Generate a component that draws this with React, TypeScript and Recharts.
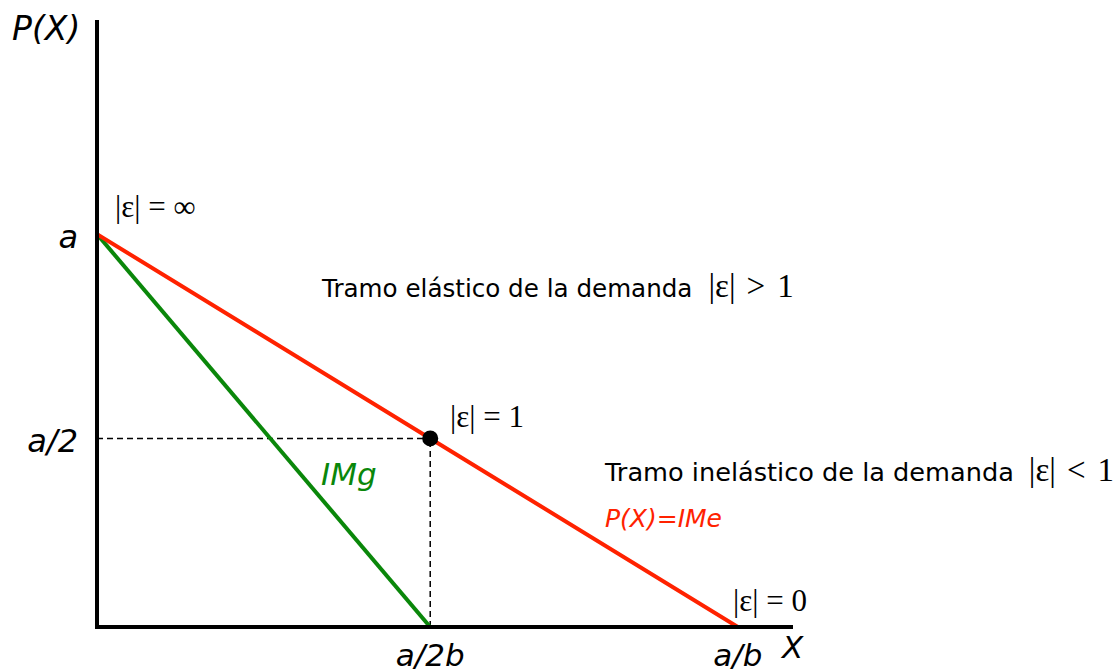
import {
  ComposedChart, Line, XAxis, YAxis, ReferenceLine, ReferenceDot, Customized
} from "recharts";

// quantity axis normalised so that a/b = 1, price axis so that a = 1
const qValues = [0, 0.52, 1];
const demandValues = [1, 0.48, 0];         // P(X) = IMe
const marginalValues = [1, 0, null];       // IMg, hits zero at a/2b

const xTickValues = [0.52, 1];
const xTickLabels = ["a/2b", "a/b"];
const yTickValues = [0.48, 1];
const yTickLabels = ["a/2", "a"];

const unitQ = qValues[1];
const unitP = demandValues[1];

const data = qValues.map((q, i) => ({
  q,
  ime: demandValues[i],
  img: marginalValues[i],
}));

const SANS = "Verdana, 'DejaVu Sans', sans-serif";
const SERIF = "'Liberation Serif', 'Times New Roman', serif";
const RED = "#ff2200";
const GREEN = "#0a870a";

const XTick = ({ x, y, payload }: any) => {
  const i = xTickValues.indexOf(payload.value);
  return (
    <text x={x} y={y + 31} textAnchor="middle" fontFamily={SANS} fontStyle="italic" fontSize={31} fill="#000">
      {xTickLabels[i]}
    </text>
  );
};

const YTick = ({ x, y, payload }: any) => {
  const i = yTickValues.indexOf(payload.value);
  return (
    <text x={x - 11} y={y + 14} textAnchor="end" fontFamily={SANS} fontStyle="italic" fontSize={32} fill="#000">
      {yTickLabels[i]}
    </text>
  );
};

// "|ε| > 1" style label with wider relation spacing
const Relation = ({ op, lead }: { op: string; lead: number }) => (
  <>
    <tspan fontFamily={SERIF} fontSize={33} dx={lead}>|ε|</tspan>
    <tspan fontFamily={SERIF} fontSize={33} dx={11}>{op}</tspan>
    <tspan fontFamily={SERIF} fontSize={33} dx={12}>1</tspan>
  </>
);

const Notes = () => (
  <g>
    <text x={12} y={40} fontFamily={SANS} fontStyle="italic" fontSize={33}>P(X)</text>
    <text x={782} y={658} fontFamily={SANS} fontStyle="italic" fontSize={31}>X</text>

    <text x={115} y={217} fontFamily={SERIF} fontSize={31}>|ε| = ∞</text>
    <text x={450} y={427} fontFamily={SERIF} fontSize={31}>|ε| = 1</text>
    <text x={733} y={611} fontFamily={SERIF} fontSize={31}>|ε| = 0</text>

    <text x={322} y={297}>
      <tspan fontFamily={SANS} fontSize={24.6}>Tramo elástico de la demanda</tspan>
      <Relation op=">" lead={16} />
    </text>
    <text x={605} y={481}>
      <tspan fontFamily={SANS} fontSize={25.6}>Tramo inelástico de la demanda</tspan>
      <Relation op="<" lead={15} />
    </text>

    <text x={605} y={527} fontFamily={SANS} fontStyle="italic" fontSize={25} fill={RED}>P(X)=IMe</text>
    <text x={321} y={485} fontFamily={SANS} fontStyle="italic" fontSize={31} fill={GREEN}>IMg</text>
  </g>
);

export default function App() {
  return (
    <div style={{ position: "absolute", left: 0, top: 0, background: "#fff" }}>
      <ComposedChart
        width={1116}
        height={672}
        data={data}
        margin={{ left: 0, right: 325, top: 22, bottom: 0 }}
      >
        <XAxis
          type="number"
          dataKey="q"
          domain={[0, 1.083]}
          ticks={xTickValues}
          tick={<XTick />}
          tickLine={false}
          height={45}
          axisLine={{ stroke: "#000", strokeWidth: 4, strokeLinecap: "square" }}
          allowDataOverflow
        />
        <YAxis
          type="number"
          domain={[0, 1.54]}
          ticks={yTickValues}
          tick={<YTick />}
          tickLine={false}
          width={97}
          axisLine={{ stroke: "#000", strokeWidth: 4, strokeLinecap: "square" }}
          allowDataOverflow
        />
        <ReferenceLine
          segment={[{ x: 0, y: unitP }, { x: unitQ, y: unitP }]}
          stroke="#000" strokeWidth={1.5} strokeDasharray="6 4"
        />
        <ReferenceLine
          segment={[{ x: unitQ, y: 0 }, { x: unitQ, y: unitP }]}
          stroke="#000" strokeWidth={1.5} strokeDasharray="6 4"
        />
        <Line
          dataKey="img" stroke={GREEN} strokeWidth={4} dot={false}
          isAnimationActive={false} connectNulls={false}
        />
        <Line
          dataKey="ime" stroke={RED} strokeWidth={4} dot={false}
          isAnimationActive={false}
        />
        <ReferenceDot x={unitQ} y={unitP} r={8} fill="#000" stroke="none" />
        <Customized component={Notes} />
      </ComposedChart>
    </div>
  );
}
